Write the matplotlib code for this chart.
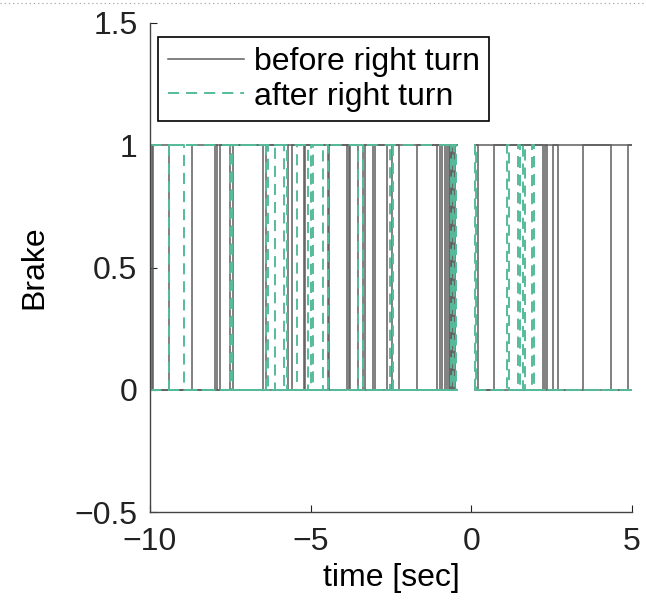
import matplotlib
matplotlib.use("Agg")
import matplotlib.pyplot as plt
from matplotlib.lines import Line2D

plt.rcParams['font.family'] = ['Liberation Sans', 'DejaVu Sans']
plt.rcParams['lines.scale_dashes'] = False

# Brake on/off traces: (start time, end time, initial state, switch times)
before_traces = [
    (-10.0, -0.45, 1, [-9.91, -8.70, -7.91, -7.81, -6.39, -5.59, -4.43, -3.88,
                       -3.81, -3.06, -2.24, -1.70, -0.97, -0.75, -0.57]),
    (-10.0, -0.45, 0, [-9.95, -9.41, -7.51, -5.70, -5.21, -3.53, -3.38, -2.62,
                       -1.08, -0.90, -0.82, -0.66, -0.50]),
    (-10.0, -0.45, 0, [-7.98, -7.42, -6.48, -5.18, -4.46, -3.78, -3.31, -3.00,
                       -2.47, -0.70, -0.62, -0.59, -0.54]),
    (0.12, 5.0, 1, [0.21, 0.70, 2.23, 2.30, 2.36, 2.55, 2.70, 3.48, 4.35, 4.87]),
    (0.12, 5.0, 1, []),
    (0.12, 5.0, 0, []),
]

after_traces = [
    (-10.0, -0.45, 0, [-9.41, -8.94, -7.51, -6.33, -6.11, -5.83, -5.42, -5.08,
                       -4.93, -4.62]),
    (-10.0, -0.45, 1, [-7.45, -6.39, -5.75, -5.00, -4.47, -3.53, -3.36, -2.53,
                       -2.45, -0.62, -0.57]),
    (-10.0, -0.45, 0, [-0.53, -0.48]),
    (-10.0, -0.45, 1, []),
    (-10.0, -0.45, 0, []),
    (0.12, 5.0, 0, [0.12, 0.16, 1.11, 1.16, 1.45, 1.52, 1.60, 1.66, 1.90, 1.94]),
    (0.12, 5.0, 0, []),
]

series_labels = ["before right turn", "after right turn"]
x_ticks = [-10, -5, 0, 5]
x_tick_labels = ["\u221210", "\u22125", "0", "5"]
y_ticks = [-0.5, 0, 0.5, 1, 1.5]
y_tick_labels = ["\u22120.5", "0", "0.5", "1", "1.5"]

gray = "#5e5e5e"
teal = "#55bb9b"
fsize = 23


def step_arrays(start, end, state, switches):
    times = [start] + list(switches) + [end]
    values = [state]
    for _ in switches:
        state = 1 - state
        values.append(state)
    values.append(state)
    return times, values


fig = plt.figure(figsize=(6.46, 6.02), dpi=100)
ax = fig.add_axes([150 / 646, 90 / 602, 482 / 646, 489 / 602])

for tr in before_traces:
    t, v = step_arrays(*tr)
    ax.plot(t, v, drawstyle="steps-post", color=gray, lw=1.1)

for tr in after_traces:
    t, v = step_arrays(*tr)
    ax.plot(t, v, drawstyle="steps-post", color=teal, lw=1.4, dashes=(8, 5))

ax.set_xlim(-10, 5)
ax.set_ylim(-0.5, 1.5)
ax.set_xticks(x_ticks)
ax.set_xticklabels(x_tick_labels)
ax.set_yticks(y_ticks)
ax.set_yticklabels(y_tick_labels)
ax.tick_params(direction="in", length=5, width=0.8, labelsize=fsize, colors="#222222")
ax.tick_params(axis="x", pad=11)
ax.tick_params(axis="y", pad=9)
for side in ("top", "right"):
    ax.spines[side].set_visible(False)
for side in ("left", "bottom"):
    ax.spines[side].set_color("#444444")
    ax.spines[side].set_linewidth(1.0)

ax.set_xlabel("time [sec]", fontsize=fsize, labelpad=4)
ax.set_ylabel("Brake", fontsize=fsize, labelpad=18)

handles = [
    Line2D([], [], color=gray, lw=1.1),
    Line2D([], [], color=teal, lw=1.4, dashes=(8, 5)),
]
leg = ax.legend(handles, series_labels, loc="upper left",
                bbox_to_anchor=(0.0166, 0.971), borderaxespad=0,
                fontsize=fsize, fancybox=False, framealpha=1, edgecolor="black",
                handlelength=2.4, handletextpad=0.3, borderpad=0.3,
                labelspacing=0.15)
leg.get_frame().set_linewidth(1.2)

# dotted rule along the top edge
fig.add_artist(Line2D([0, 1], [0.995, 0.995], transform=fig.transFigure,
                      ls=(0, (1, 2)), color="#aaaaaa", lw=0.8))

fig.savefig("out.png", dpi=100)
